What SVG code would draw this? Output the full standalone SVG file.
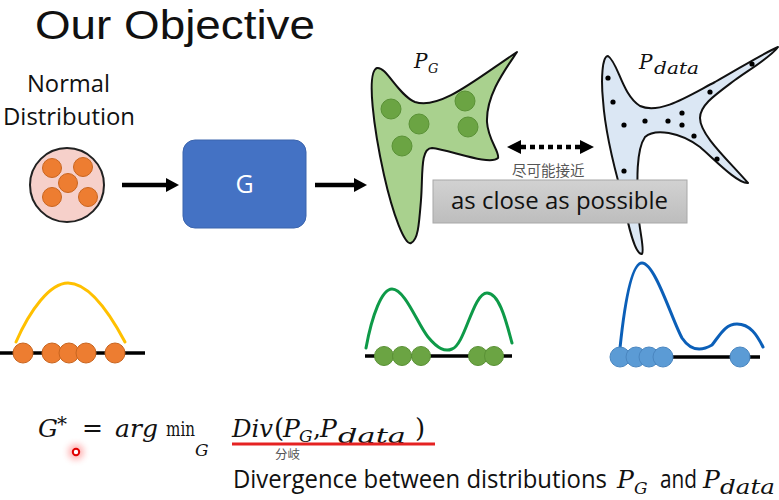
<svg xmlns="http://www.w3.org/2000/svg" width="779" height="500" viewBox="0 0 779 500">
<defs>
<style>
.sans{font-family:"Open Sans","Noto Sans","Liberation Sans",sans-serif;}
.ttl{font-family:"Liberation Sans","Open Sans",sans-serif;}
.math{font-family:"DejaVu Serif","Liberation Serif",serif;font-style:italic;}
.up{font-family:"DejaVu Serif","Liberation Serif",serif;font-style:normal;}
.cjk{font-family:"Noto Sans CJK SC","Noto Sans CJK TC",sans-serif;fill:#555;}
.base{stroke:#000;stroke-width:3.5;}
.od{fill:#ed7d31;stroke:#c9651f;stroke-width:1;}
.gd{fill:#6ba443;stroke:#5a9136;stroke-width:1;}
.bd{fill:#5b9bd5;stroke:#4a86c0;stroke-width:1;}
.curve{fill:none;stroke-width:3;stroke-linecap:round;}
.blob{stroke:#111;stroke-width:2;stroke-linejoin:round;}
.arrow{stroke:#000;stroke-width:4.5;fill:none;}
</style>
<linearGradient id="gb" x1="0" y1="0" x2="0" y2="1">
<stop offset="0" stop-color="#d2d2d2"/>
<stop offset="1" stop-color="#bdbdbd"/>
</linearGradient>
<filter id="blur" x="-1" y="-1" width="3" height="3"><feGaussianBlur stdDeviation="3"/></filter>
</defs>
<rect width="779" height="500" fill="#fff"/>

<g id="title">
<text class="ttl" x="35" y="39" font-size="41" textLength="280" lengthAdjust="spacingAndGlyphs" fill="#111">Our Objective</text>
</g>

<g id="normal-distribution">
<text class="sans" x="27" y="92" font-size="24" textLength="83" lengthAdjust="spacingAndGlyphs" fill="#111">Normal</text>
<text class="sans" x="3" y="125" font-size="24" textLength="132" lengthAdjust="spacingAndGlyphs" fill="#111">Distribution</text>
<circle cx="67" cy="185" r="37" fill="#f6d0ca" stroke="#222" stroke-width="2"/>
<circle class="od" cx="52" cy="168" r="9.5"/>
<circle class="od" cx="83" cy="167" r="9.5"/>
<circle class="od" cx="68" cy="183" r="9.5"/>
<circle class="od" cx="52" cy="197" r="9.5"/>
<circle class="od" cx="88" cy="197" r="9.5"/>
</g>

<g id="generator">
<rect x="183" y="140" width="123" height="88" rx="12" fill="#4472c4" stroke="#3b64ad" stroke-width="1"/>
<text class="sans" x="244.5" y="193" font-size="25" text-anchor="middle" fill="#fff">G</text>
</g>

<g id="pg">
<path class="blob" fill="#a9d18e" d="M377,68 C386,66 398,95 415,102 C440,110 475,80 517,52 C505,70 486,95 487,122 C488,140 500,152 498,158 C490,166 450,150 432,148 C420,148 423,175 421,200 C419,225 418,240 411,243 C405,246 393,215 384,175 C374,130 366,72 377,68 Z"/>
<circle class="gd" cx="391" cy="109" r="10"/>
<circle class="gd" cx="465" cy="101" r="10"/>
<circle class="gd" cx="419" cy="124" r="10"/>
<circle class="gd" cx="468" cy="127" r="10"/>
<circle class="gd" cx="402" cy="146" r="10"/>
<text class="math" x="414" y="68" font-size="20" fill="#111">P</text>
<text class="math" x="428" y="73" font-size="13" fill="#111">G</text>
</g>

<g id="pdata">
<path class="blob" fill="#dbe7f4" d="M608,56 C618,62 622,95 640,106 C660,115 690,95 715,82 C740,68 760,55 778,47 C772,56 752,68 735,80 C715,95 700,105 700,118 C700,135 728,160 748,183 C738,184 715,160 700,147 C680,132 655,128 645,137 C636,150 637,180 638,210 C639,230 645,250 642,254 C635,255 628,225 622,195 C612,160 605,130 603,100 C601,80 602,56 608,56 Z"/>
<g fill="#000">
<circle cx="608" cy="78" r="2.6"/>
<circle cx="613" cy="102" r="2.6"/>
<circle cx="624" cy="125" r="2.6"/>
<circle cx="645" cy="121" r="2.6"/>
<circle cx="668" cy="121" r="2.6"/>
<circle cx="682" cy="113" r="2.6"/>
<circle cx="682" cy="125" r="2.6"/>
<circle cx="694" cy="136" r="2.6"/>
<circle cx="710" cy="92" r="2.6"/>
<circle cx="752" cy="64" r="2.6"/>
<circle cx="717" cy="159" r="2.6"/>
<circle cx="624" cy="171" r="2.6"/>
</g>
<text class="math" x="639" y="69" font-size="20" fill="#111">P</text>
<text class="math" x="654" y="74" font-size="17" textLength="45" lengthAdjust="spacingAndGlyphs" fill="#111">data</text>
</g>

<g id="connectors">
<line class="arrow" x1="122" y1="185" x2="166" y2="185"/>
<polygon points="166,178 179,185 166,192" fill="#000"/>
<line class="arrow" x1="315" y1="185" x2="354" y2="185"/>
<polygon points="354,178 367,185 354,192" fill="#000"/>
<line x1="521" y1="147" x2="580" y2="147" stroke="#000" stroke-width="4.5" stroke-dasharray="5,4"/>
<polygon points="521,140 507,147 521,154" fill="#000"/>
<polygon points="580,140 594,147 580,154" fill="#000"/>
</g>

<g id="close-label">
<text class="cjk" x="512" y="176" font-size="14.5">尽可能接近</text>
<rect x="433" y="180" width="254" height="43" fill="url(#gb)" stroke="#a8a8a8" stroke-width="1"/>
<text class="sans" x="451" y="209" font-size="24" textLength="217" lengthAdjust="spacingAndGlyphs" fill="#111">as close as possible</text>
</g>

<g id="normal-curve">
<line class="base" x1="0" y1="353" x2="145" y2="353"/>
<path class="curve" stroke="#ffc000" d="M16,342 C30,310 50,283 68,283 C88,283 108,310 125,342"/>
<circle class="od" cx="23" cy="353" r="10"/>
<circle class="od" cx="52" cy="353" r="10"/>
<circle class="od" cx="69" cy="353" r="10"/>
<circle class="od" cx="86" cy="353" r="10"/>
<circle class="od" cx="115" cy="353" r="10"/>
</g>

<g id="pg-curve">
<line class="base" x1="365" y1="356" x2="512" y2="356"/>
<path class="curve" stroke="#0e9a48" d="M366,348 C372,315 382,289 392,289 C405,289 418,325 428,337 C438,349 445,352 452,349 C465,345 473,293 487,293 C500,293 507,325 512,343"/>
<circle class="gd" cx="384" cy="356" r="9.5"/>
<circle class="gd" cx="402" cy="356" r="9.5"/>
<circle class="gd" cx="421" cy="356" r="9.5"/>
<circle class="gd" cx="478" cy="356" r="9.5"/>
<circle class="gd" cx="494" cy="356" r="9.5"/>
</g>

<g id="pdata-curve">
<line class="base" x1="620" y1="357" x2="760" y2="357"/>
<path class="curve" stroke="#0b5fb8" d="M620,348 C625,300 632,263 642,263 C655,263 672,320 682,338 C690,350 700,352 712,345 C720,335 725,324 737,324 C750,324 757,335 763,347"/>
<circle class="bd" cx="620" cy="357" r="10"/>
<circle class="bd" cx="636" cy="357" r="10"/>
<circle class="bd" cx="649" cy="357" r="10"/>
<circle class="bd" cx="663" cy="357" r="10"/>
<circle class="bd" cx="740" cy="357" r="10"/>
</g>

<g id="formula">
<text class="math" x="38" y="437" font-size="25" fill="#111">G</text>
<text class="up" x="57" y="431" font-size="20" fill="#111">*</text>
<text class="up" x="82" y="437" font-size="26" textLength="21" lengthAdjust="spacingAndGlyphs" fill="#111">=</text>
<text class="math" x="115" y="437" font-size="25" textLength="43" lengthAdjust="spacingAndGlyphs" fill="#111">arg</text>
<text class="up" x="166" y="436" font-size="20" textLength="29" lengthAdjust="spacingAndGlyphs" fill="#111">min</text>
<text class="math" x="195" y="456" font-size="17" fill="#111">G</text>
<text class="math" x="232" y="437" font-size="25" textLength="41" lengthAdjust="spacingAndGlyphs" fill="#111">Div</text>
<text class="up" x="274" y="437" font-size="26" fill="#111">(</text>
<text class="math" x="283" y="437" font-size="25" fill="#111">P</text>
<text class="math" x="299" y="442" font-size="17" fill="#111">G</text>
<text class="up" x="313" y="437" font-size="25" fill="#111">,</text>
<text class="math" x="320" y="437" font-size="25" fill="#111">P</text>
<text class="math" x="338" y="443" font-size="20" textLength="68" lengthAdjust="spacingAndGlyphs" fill="#111">data</text>
<text class="up" x="415" y="437" font-size="26" fill="#111">)</text>
<line x1="232" y1="444" x2="435" y2="444" stroke="#e52222" stroke-width="3"/>
<text class="cjk" x="275" y="459" font-size="12.5">分岐</text>
<circle cx="76" cy="452" r="8" fill="#ff6060" opacity="0.45" filter="url(#blur)"/>
<circle cx="76" cy="452" r="3.2" fill="#fff" stroke="#e00000" stroke-width="2"/>
</g>

<g id="divergence-caption">
<text class="sans" x="233" y="488" font-size="25" textLength="374" lengthAdjust="spacingAndGlyphs" fill="#111">Divergence between distributions</text>
<text class="math" x="617" y="488" font-size="25" fill="#111">P</text>
<text class="math" x="634" y="494" font-size="17" fill="#111">G</text>
<text class="sans" x="660" y="488" font-size="25" textLength="37" lengthAdjust="spacingAndGlyphs" fill="#111">and</text>
<text class="math" x="703" y="488" font-size="25" fill="#111">P</text>
<text class="math" x="720" y="494" font-size="20" textLength="55" lengthAdjust="spacingAndGlyphs" fill="#111">data</text>
</g>
</svg>
